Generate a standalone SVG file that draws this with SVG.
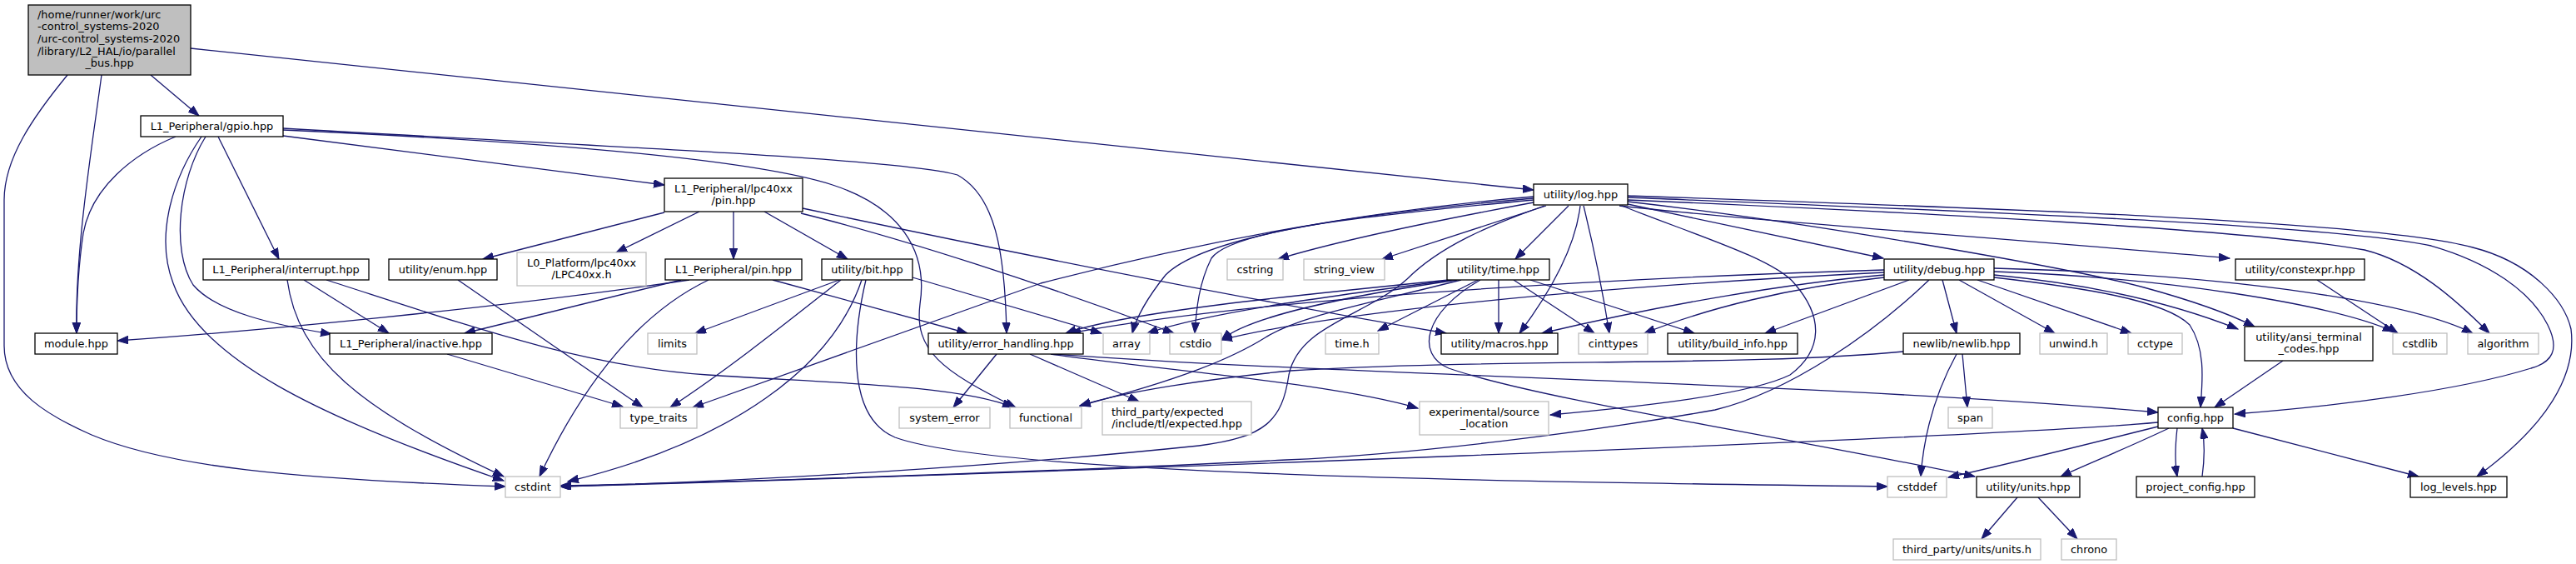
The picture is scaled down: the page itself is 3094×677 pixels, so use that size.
<svg xmlns="http://www.w3.org/2000/svg" width="3094" height="677" viewBox="0 0 3094 677">
<style>
text{font-family:"DejaVu Sans","Liberation Sans",sans-serif;font-size:12.9px;fill:#000}
.c{text-anchor:middle}
.n rect{fill:#fff;stroke:#000;stroke-width:1.3}
.g rect{fill:#fff;stroke:#bfbfbf;stroke-width:1.3}
.r rect{fill:#bfbfbf;stroke:#000;stroke-width:1.3}
#edges path{fill:none;stroke:#191970;stroke-width:1.3;marker-end:url(#a)}
</style>
<defs>
<marker id="a" markerUnits="userSpaceOnUse" markerWidth="14" markerHeight="10" refX="13" refY="4.75" orient="auto">
<path d="M0,0 L13,4.75 L0,9.5 z" fill="#191970" stroke="#191970" stroke-width="1"/>
</marker>
</defs>
<rect width="3094" height="677" fill="#fff"/>
<g id="edges">
<path d="M181,90 L239,139"/>
<path d="M122,90 C110,180 90,300 92,400"/>
<path d="M81,90 C40,140 5,190 5,240 L5,415 C5,470 60,500 110,522 C200,560 350,575 607,584"/>
<path d="M229,58 L1842,228"/>
<path d="M262,164 L335,311"/>
<path d="M211,164 C160,185 110,225 100,280 C94,320 92,360 92,400"/>
<path d="M242,164 C210,210 185,280 208,340 C240,430 380,500 605,577"/>
<path d="M247,164 C215,215 205,300 232,342 C260,375 330,390 398,401"/>
<path d="M340,163 L798,222"/>
<path d="M340,154 C700,175 1080,190 1150,210 C1195,235 1207,300 1209,400"/>
<path d="M340,156 C650,170 900,190 1000,222 C1080,248 1115,300 1105,365 C1098,420 1130,445 1220,489"/>
<path d="M365,336 L467,400"/>
<path d="M345,336 C358,430 430,490 605,572"/>
<path d="M392,336 C560,390 700,440 850,450 C1000,460 1150,462 1217,489"/>
<path d="M550,336 L772,489"/>
<path d="M537,425 L748,488"/>
<path d="M798,255 L580,311"/>
<path d="M840,254 L740,303"/>
<path d="M881,254 L881,311"/>
<path d="M918,254 L1018,311"/>
<path d="M962,256 C1080,285 1250,340 1410,400"/>
<path d="M964,250 C1200,300 1500,360 1737,400"/>
<path d="M828,336 C600,370 300,398 141,409"/>
<path d="M818,336 L558,400"/>
<path d="M851,336 C780,370 710,440 648,572"/>
<path d="M928,336 L1162,400"/>
<path d="M1008,336 L835,400"/>
<path d="M1010,336 C960,375 880,440 805,489"/>
<path d="M1035,336 C1000,440 880,530 682,578"/>
<path d="M1040,336 C1025,400 1015,500 1075,525 C1200,570 1800,578 2267,584"/>
<path d="M1096,333 L1323,400"/>
<path d="M1842,243 C1750,260 1620,285 1535,311"/>
<path d="M1857,247 L1660,311"/>
<path d="M1884,247 L1820,311"/>
<path d="M1842,236 C1700,248 1500,275 1250,340 L832,489"/>
<path d="M1842,238 C1650,255 1450,280 1400,330 C1380,355 1365,380 1360,400"/>
<path d="M1842,240 C1650,258 1480,275 1455,310 C1440,340 1437,370 1435,400"/>
<path d="M1898,247 C1893,290 1870,340 1825,400"/>
<path d="M1902,247 C1915,300 1925,350 1933,400"/>
<path d="M1948,247 C2030,280 2130,310 2155,340 C2190,380 2190,420 2150,450 C2100,475 1950,490 1862,498"/>
<path d="M1955,245 L2262,310"/>
<path d="M1945,247 C2100,265 2400,285 2678,310"/>
<path d="M1955,240 C2300,255 2700,275 2840,300 C2900,315 2950,360 2990,400"/>
<path d="M1955,237 C2400,255 2800,270 2920,295 C2990,315 3040,350 3060,390 C3075,420 3065,435 3040,442 C2950,470 2800,488 2684,497"/>
<path d="M1955,235 C2400,250 2850,265 2970,297 C3040,315 3080,360 3088,395 C3095,450 3060,510 2975,572"/>
<path d="M1955,242 C2200,270 2500,325 2575,345 C2630,360 2680,378 2708,392"/>
<path d="M1855,247 C1790,270 1730,295 1690,335 C1640,380 1560,390 1548,450 C1540,505 1520,525 1440,535 C1200,560 900,578 673,584"/>
<path d="M1775,336 L1655,397"/>
<path d="M1800,336 L1800,400"/>
<path d="M1818,336 L1915,400"/>
<path d="M1838,336 L2035,400"/>
<path d="M1778,336 C1710,375 1700,425 1740,442 C1850,480 2150,525 2372,572"/>
<path d="M1740,336 C1550,355 1350,375 1280,400"/>
<path d="M1745,336 C1600,355 1450,375 1378,400"/>
<path d="M1750,336 C1620,355 1500,380 1467,408"/>
<path d="M1755,336 C1620,370 1560,380 1520,405 C1480,430 1420,455 1297,487"/>
<path d="M2293,336 L2120,400"/>
<path d="M2333,336 L2350,400"/>
<path d="M2353,336 L2468,400"/>
<path d="M2375,336 L2560,400"/>
<path d="M2263,330 C2150,340 2000,365 1852,400"/>
<path d="M2263,333 C2150,345 2050,370 1975,400"/>
<path d="M2263,324 C1900,335 1500,360 1285,400"/>
<path d="M2263,327 C1900,345 1600,375 1467,408"/>
<path d="M2395,330 C2500,340 2600,360 2688,395"/>
<path d="M2395,326 C2600,333 2800,365 2875,398"/>
<path d="M2395,322 C2700,330 2900,365 2970,400"/>
<path d="M2395,333 C2500,345 2600,360 2630,390 C2650,420 2645,460 2643,489"/>
<path d="M2317,336 C2250,400 2150,470 2060,492 C1900,520 1700,545 1545,552 C1300,565 900,578 673,583"/>
<path d="M2286,422 C2100,440 1800,430 1550,445 C1450,455 1350,470 1297,487"/>
<path d="M2357,425 L2363,489"/>
<path d="M2350,425 C2320,480 2310,530 2307,572"/>
<path d="M1197,425 L1145,489"/>
<path d="M1237,425 L1368,482"/>
<path d="M1265,425 C1600,450 2200,460 2592,495"/>
<path d="M1262,425 C1400,445 1600,460 1703,490"/>
<path d="M2423,597 L2380,647"/>
<path d="M2448,597 L2495,647"/>
<path d="M2615,514 C2612,540 2612,555 2615,572"/>
<path d="M2645,572 C2648,550 2648,530 2645,514"/>
<path d="M2682,514 L2905,572"/>
<path d="M2592,507 C2400,525 1200,570 673,584"/>
<path d="M2592,512 C2500,535 2400,560 2340,573"/>
<path d="M2605,514 C2550,540 2500,560 2475,572"/>
<path d="M2742,433 L2660,489"/>
<path d="M2783,336 L2880,400"/>
</g>
<g id="root" class="r"><rect x="34" y="6" width="195" height="84"/>
<text x="45" y="21.5">/home/runner/work/urc</text><text x="45" y="36.2">-control_systems-2020</text><text x="45" y="50.9">/urc-control_systems-2020</text><text x="45" y="65.6">/library/L2_HAL/io/parallel</text><text class="c" x="131.5" y="80.3">_bus.hpp</text></g>
<g id="gpio" class="n"><rect x="169" y="139" width="171" height="25"/><text class="c" x="254.5" y="155.5">L1_Peripheral/gpio.hpp</text></g>
<g id="interrupt" class="n"><rect x="244" y="311" width="199" height="25"/><text class="c" x="343.5" y="327.5">L1_Peripheral/interrupt.hpp</text></g>
<g id="enum" class="n"><rect x="467" y="311" width="130" height="25"/><text class="c" x="532" y="327.5">utility/enum.hpp</text></g>
<g id="lpcpin" class="n"><rect x="798" y="214" width="166" height="40"/><text class="c" x="881" y="230.5">L1_Peripheral/lpc40xx</text><text class="c" x="881" y="245">/pin.hpp</text></g>
<g id="lpc40xxh" class="g"><rect x="621" y="303" width="155" height="40"/><text class="c" x="698.5" y="319.5">L0_Platform/lpc40xx</text><text class="c" x="698.5" y="334">/LPC40xx.h</text></g>
<g id="pin" class="n"><rect x="799" y="311" width="164" height="25"/><text class="c" x="881" y="327.5">L1_Peripheral/pin.hpp</text></g>
<g id="bit" class="n"><rect x="987" y="311" width="109" height="25"/><text class="c" x="1041.5" y="327.5">utility/bit.hpp</text></g>
<g id="module" class="n"><rect x="42" y="400" width="99" height="25"/><text class="c" x="91.5" y="416.5">module.hpp</text></g>
<g id="inactive" class="n"><rect x="396" y="400" width="195" height="25"/><text class="c" x="493.5" y="416.5">L1_Peripheral/inactive.hpp</text></g>
<g id="limits" class="g"><rect x="778" y="400" width="59" height="25"/><text class="c" x="807.5" y="416.5">limits</text></g>
<g id="type_traits" class="g"><rect x="745" y="489" width="92" height="25"/><text class="c" x="791" y="505.5">type_traits</text></g>
<g id="cstdint" class="g"><rect x="607" y="572" width="66" height="25"/><text class="c" x="640" y="588.5">cstdint</text></g>
<g id="cstring" class="g"><rect x="1474" y="311" width="67" height="25"/><text class="c" x="1507.5" y="327.5">cstring</text></g>
<g id="error_handling" class="n"><rect x="1115" y="400" width="186" height="25"/><text class="c" x="1208" y="416.5">utility/error_handling.hpp</text></g>
<g id="array" class="g"><rect x="1325" y="400" width="56" height="25"/><text class="c" x="1353" y="416.5">array</text></g>
<g id="cstdio" class="g"><rect x="1405" y="400" width="62" height="25"/><text class="c" x="1436" y="416.5">cstdio</text></g>
<g id="system_error" class="g"><rect x="1080" y="489" width="109" height="25"/><text class="c" x="1134.5" y="505.5">system_error</text></g>
<g id="functional" class="g"><rect x="1213" y="489" width="86" height="25"/><text class="c" x="1256" y="505.5">functional</text></g>
<g id="expected" class="g"><rect x="1324" y="482" width="179" height="40"/><text x="1335" y="498.5">third_party/expected</text><text class="c" x="1413.5" y="513">/include/tl/expected.hpp</text></g>
<g id="log" class="n"><rect x="1842" y="221" width="113" height="25"/><text class="c" x="1898.5" y="237.5">utility/log.hpp</text></g>
<g id="string_view" class="g"><rect x="1566" y="311" width="97" height="25"/><text class="c" x="1614.5" y="327.5">string_view</text></g>
<g id="time" class="n"><rect x="1738" y="311" width="123" height="25"/><text class="c" x="1799.5" y="327.5">utility/time.hpp</text></g>
<g id="time_h" class="g"><rect x="1592" y="400" width="64" height="25"/><text class="c" x="1624" y="416.5">time.h</text></g>
<g id="macros" class="n"><rect x="1731" y="400" width="140" height="25"/><text class="c" x="1801" y="416.5">utility/macros.hpp</text></g>
<g id="cinttypes" class="g"><rect x="1896" y="400" width="83" height="25"/><text class="c" x="1937.5" y="416.5">cinttypes</text></g>
<g id="build_info" class="n"><rect x="2003" y="400" width="156" height="25"/><text class="c" x="2081" y="416.5">utility/build_info.hpp</text></g>
<g id="source_location" class="g"><rect x="1705" y="482" width="155" height="40"/><text class="c" x="1782.5" y="498.5">experimental/source</text><text class="c" x="1782.5" y="513">_location</text></g>
<g id="debug" class="n"><rect x="2263" y="311" width="132" height="25"/><text class="c" x="2329" y="327.5">utility/debug.hpp</text></g>
<g id="newlib" class="n"><rect x="2286" y="400" width="140" height="25"/><text class="c" x="2356" y="416.5">newlib/newlib.hpp</text></g>
<g id="unwind" class="g"><rect x="2450" y="400" width="81" height="25"/><text class="c" x="2490.5" y="416.5">unwind.h</text></g>
<g id="cctype" class="g"><rect x="2556" y="400" width="65" height="25"/><text class="c" x="2588.5" y="416.5">cctype</text></g>
<g id="span" class="g"><rect x="2340" y="489" width="53" height="25"/><text class="c" x="2366.5" y="505.5">span</text></g>
<g id="cstddef" class="g"><rect x="2267" y="572" width="71" height="25"/><text class="c" x="2302.5" y="588.5">cstddef</text></g>
<g id="units" class="n"><rect x="2374" y="572" width="124" height="25"/><text class="c" x="2436" y="588.5">utility/units.hpp</text></g>
<g id="units_h" class="g"><rect x="2274" y="647" width="177" height="25"/><text class="c" x="2362.5" y="663.5">third_party/units/units.h</text></g>
<g id="chrono" class="g"><rect x="2476" y="647" width="66" height="25"/><text class="c" x="2509" y="663.5">chrono</text></g>
<g id="project_config" class="n"><rect x="2566" y="572" width="142" height="25"/><text class="c" x="2637" y="588.5">project_config.hpp</text></g>
<g id="constexpr" class="n"><rect x="2685" y="311" width="155" height="25"/><text class="c" x="2762.5" y="327.5">utility/constexpr.hpp</text></g>
<g id="ansi" class="n"><rect x="2696" y="392" width="154" height="41"/><text class="c" x="2773" y="408.5">utility/ansi_terminal</text><text class="c" x="2773" y="423">_codes.hpp</text></g>
<g id="cstdlib" class="g"><rect x="2874" y="400" width="65" height="25"/><text class="c" x="2906.5" y="416.5">cstdlib</text></g>
<g id="algorithm" class="g"><rect x="2964" y="400" width="85" height="25"/><text class="c" x="3006.5" y="416.5">algorithm</text></g>
<g id="config" class="n"><rect x="2592" y="489" width="90" height="25"/><text class="c" x="2637" y="505.5">config.hpp</text></g>
<g id="log_levels" class="n"><rect x="2895" y="572" width="116" height="25"/><text class="c" x="2953" y="588.5">log_levels.hpp</text></g>
</svg>
